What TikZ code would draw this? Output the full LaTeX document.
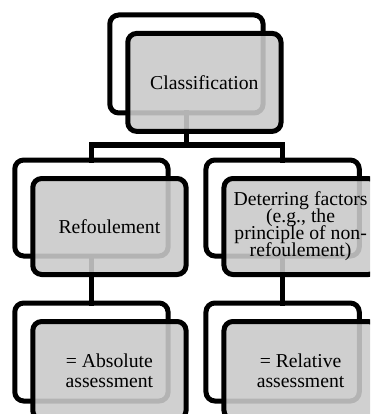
\documentclass[tikz,border=0pt]{standalone}
\usepackage{fontspec}
\setmainfont{Liberation Serif}
\definecolor{boxgray}{RGB}{202,202,202}
\setlength{\lineskiplimit}{-30pt}
\begin{document}
\begin{tikzpicture}[x=1pt,y=-1pt,
  backbox/.style={draw=black, line width=5pt, fill=white, rounded corners=9pt,
    minimum width=153.3pt, inner sep=0pt, outer sep=0pt},
  frontbox/.style={draw=black, line width=5pt, fill=boxgray,
    fill opacity=0.89, text opacity=1, rounded corners=9pt,
    minimum width=153.3pt, inner sep=0pt, outer sep=0pt, align=center, text=black},
  conn/.style={draw=black, line width=5pt, line cap=rect},
  txta/.style={font=\fontsize{19.7}{17}\selectfont},
  txtb/.style={font=\fontsize{19.7}{20}\selectfont}
]
\useasboundingbox (0,0) rectangle (370,414);
\clip (0,0) rectangle (370,414);
% back boxes
\node[backbox, minimum height=98pt] (c1b) at (186.4,64) {};
\node[backbox, minimum height=96pt] (l2b) at (91.4,208) {};
\node[backbox, minimum height=96pt] (r2b) at (282.6,208) {};
\node[backbox, minimum height=98pt] (l3b) at (91.4,352) {};
\node[backbox, minimum height=98pt] (r3b) at (282.6,352) {};
% connectors
\coordinate (bar) at (186.4,145);
\draw[conn] (c1b.south) -- (bar) -| (l2b.north);
\draw[conn] (bar) -| (r2b.north);
\draw[conn] (l2b.south) -- (l3b.north);
\draw[conn] (r2b.south) -- (r3b.north);
% front boxes
\node[frontbox, minimum height=98pt, txtb] (c1f) at (204.4,82.4) {Classification};
\node[frontbox, minimum height=96pt, txtb] (l2f) at (109.4,226.5) {Refoulement};
\node[frontbox, minimum height=96pt, txta] (r2f) at (300.6,226.5) {Deterring factors\\(e.g., the\\principle of non-\\refoulement)};
\node[frontbox, minimum height=98pt, txtb] (l3f) at (109.4,370.5) {= Absolute\\assessment};
\node[frontbox, minimum height=98pt, txtb] (r3f) at (300.6,370.5) {= Relative\\assessment};
\end{tikzpicture}
\end{document}
